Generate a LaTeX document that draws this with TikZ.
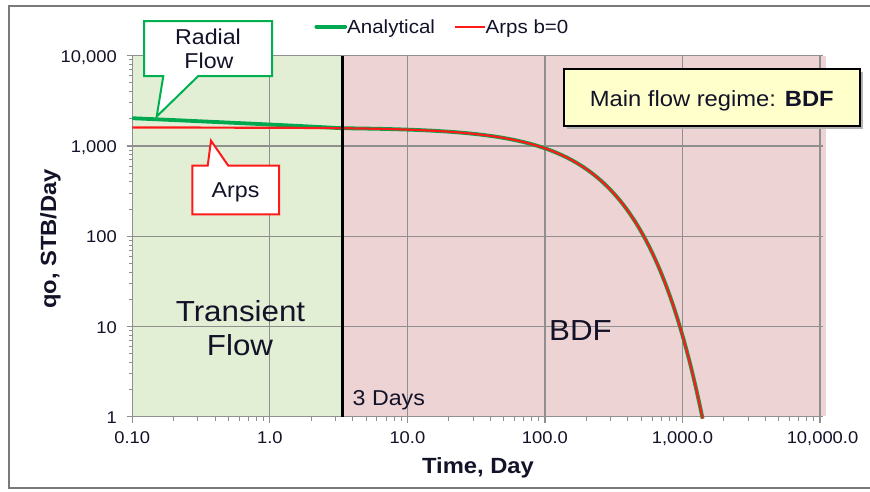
\documentclass[tikz,border=0pt]{standalone}
\usepackage{fontspec}
\setmainfont[FakeStretch=1.08]{Liberation Sans}
\definecolor{txt}{HTML}{121228}
\definecolor{gfill}{HTML}{E3EFD5}
\definecolor{pfill}{HTML}{EDD3D3}
\definecolor{gridc}{HTML}{8F8F8F}
\definecolor{cgreen}{HTML}{00B050}
\definecolor{lgreen}{HTML}{00A84F}
\definecolor{cred}{HTML}{FF1A1A}
\definecolor{yel}{HTML}{FFFFCC}
\definecolor{framec}{HTML}{7A7A7A}
\tikzset{
  gridline/.style={draw=gridc, line width=1.2pt},
  ticklab/.style={text=txt, font=\fontsize{17}{19}\selectfont, inner sep=0pt},
  axtitle/.style={text=txt, font=\fontsize{22}{24}\selectfont\bfseries, inner sep=0pt},
  bigtext/.style={text=txt, font=\fontsize{29}{33}\selectfont, inner sep=0pt},
  midtext/.style={text=txt, font=\fontsize{21.5}{24}\selectfont, inner sep=0pt},
  legtext/.style={text=txt, font=\fontsize{19}{21}\selectfont, inner sep=0pt},
  greencurve/.style={draw=lgreen, line width=3.8pt},
  redcurve/.style={draw=cred, line width=2.2pt},
  callgreen/.style={draw=cgreen, fill=white, line width=2pt, line join=miter},
  callred/.style={draw=cred, fill=white, line width=2pt, line join=miter},
}
\begin{document}
\begin{tikzpicture}[x=1pt,y=-1pt]
\useasboundingbox (0,0) rectangle (870,491);
% outer frame
\draw[framec, line width=1.4pt] (875,6) -- (9,6) -- (9,488) -- (875,488);
% regions
\fill[gfill] (132.3,55.7) rectangle (342.5,416.2);
\fill[pfill] (342.5,55.7) rectangle (826,416.2);
% grid
\foreach \k in {1,2,3,4,5} \draw[gridline] ({132.3+137.55*\k},55.7) -- ({132.3+137.55*\k},416.7);
\foreach \k in {1,2,3,4} \draw[gridline] (132.3,{416.7-90.25*\k}) -- (822.5,{416.7-90.25*\k});
% axes
\draw[gridline] (132.3,55.7) -- (132.3,416.7) -- (822.5,416.7);
\foreach \k in {0,...,4} \draw[gridline] (126.5,{416.7-90.25*\k}) -- (132.3,{416.7-90.25*\k});
\foreach \d in {0,...,3} \foreach \m in {2,...,9}
  \draw[draw=gridc, line width=0.9pt] (129.3,{416.7-90.25*(\d+log10(\m))}) -- (132.3,{416.7-90.25*(\d+log10(\m))});
\foreach \k in {0,...,5} \draw[gridline] ({132.3+137.55*\k},416.7) -- ({132.3+137.55*\k},423);
\foreach \d in {0,...,4} \foreach \m in {2,...,9}
  \draw[draw=gridc, line width=0.9pt] ({132.3+137.55*(\d+log10(\m))},416.7) -- ({132.3+137.55*(\d+log10(\m))},421);
% tick labels
\node[ticklab, anchor=base east] (y4) at (117,62.2) {10,000};
\node[ticklab, anchor=base east] (y3) at (117,152.5) {1,000};
\node[ticklab, anchor=base east] (y2) at (117,242.7) {100};
\node[ticklab, anchor=base east] (y1) at (117,333) {10};
\node[ticklab, anchor=base east] (y0) at (117,423.2) {1};
\node[ticklab, anchor=base] (x0) at (132.3,443.3) {0.10};
\node[ticklab, anchor=base] (x1) at (269.85,443.3) {1.0};
\node[ticklab, anchor=base] (x2) at (407.4,443.3) {10.0};
\node[ticklab, anchor=base] (x3) at (544.95,443.3) {100.0};
\node[ticklab, anchor=base] (x4) at (682.5,443.3) {1,000.0};
\node[ticklab, anchor=base] (x5) at (822.5,443.3) {10,000.0};
% axis titles
\node[axtitle, anchor=base] (xt) at (478,473.3) {Time, Day};
\node[axtitle, anchor=base, rotate=90] (yt) at (56,239) {qo, STB/Day};
% curves
\draw[greencurve] plot[domain=-1:3.147, samples=180, variable=\u]
  ({132.3+137.55*(\u+1)}, {416.7-90.25*(3.2041-0.0023104*pow(10,\u)+0.068*max(0,0.5224-\u))});
\draw[redcurve] plot[domain=-1:3.147, samples=180, variable=\u]
  ({132.3+137.55*(\u+1)}, {416.7-90.25*(3.2041-0.0023104*pow(10,\u))});
% 3 day line
\coordinate (dtop) at (342.5,55.7);
\coordinate (dbot) at (342.5,416.7);
\draw[black, line width=3.5pt] (dtop) -- (dbot);
% region labels
\node[bigtext, anchor=base] (tr1) at (240.5,321.7) {Transient};
\node[bigtext, anchor=base] (tr2) at (240,355) {Flow};
\node[bigtext, anchor=base] (bdf) at (580.5,340) {BDF};
\node[midtext, anchor=base west] (d3) at (352.5,405.7) {3 Days};
% legend
\coordinate (lga) at (316.5,26.7);
\coordinate (lgb) at (345,26.7);
\draw[lgreen, line width=4.2pt, line cap=round] (lga) -- (lgb);
\node[legtext, anchor=base west] (lgt1) at (347,33.5) {Analytical};
\coordinate (lra) at (455,26.7);
\coordinate (lrb) at (485,26.7);
\draw[cred, line width=1.6pt] (lra) -- (lrb);
\node[legtext, anchor=base west] (lgt2) at (485.5,33.5) {Arps b=0};
% radial flow callout
\draw[callgreen] (144,21) -- (272,21) -- (272,76) -- (198.3,76) -- (156.7,116.5) -- (163.3,76) -- (144,76) -- cycle;
\node[midtext, anchor=base] (rf1) at (208,44) {Radial};
\node[midtext, anchor=base] (rf2) at (209,68.3) {Flow};
% arps callout
\draw[callred] (192.3,165.7) -- (207.7,165.7) -- (211,140.7) -- (228.3,165.7) -- (279,165.7) -- (279,214.3) -- (192.3,214.3) -- cycle;
\node[midtext, anchor=base] (ar) at (235.5,197.3) {Arps};
% main flow regime box
\fill[black!30] (567,72) rectangle (863,129);
\draw[fill=yel, draw=black, line width=2.5pt] (564,69) rectangle (860,126);
\node[text=txt, font=\fontsize{22}{24}\selectfont, inner sep=0pt, anchor=base] (mf) at (711.8,106) {Main flow regime: \textbf{BDF}};
\end{tikzpicture}
\end{document}
